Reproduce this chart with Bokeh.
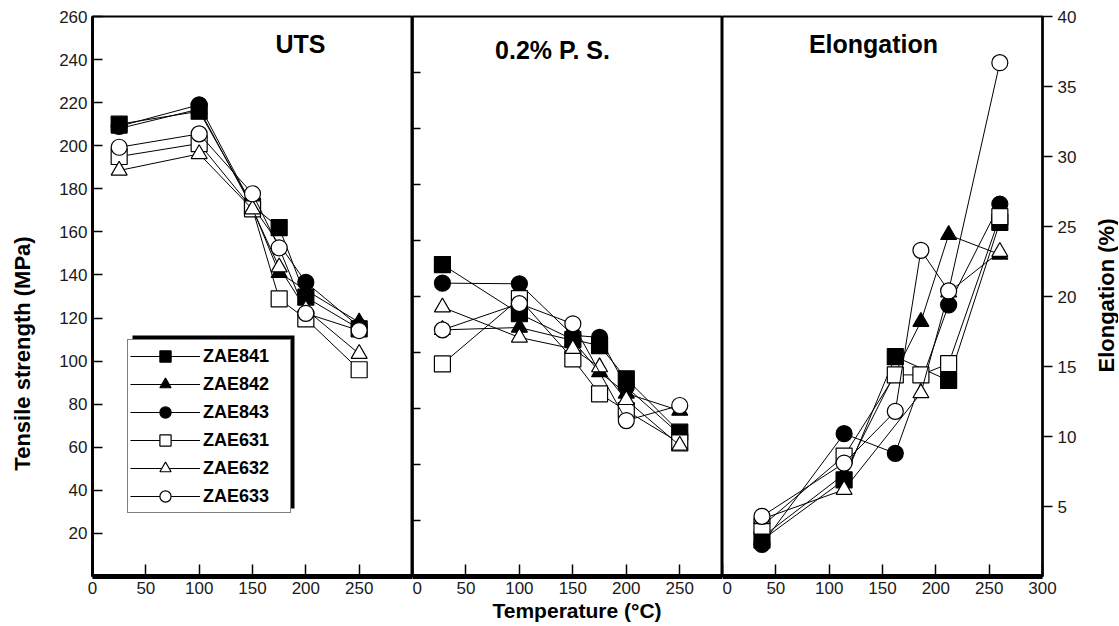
import math
from bokeh.plotting import figure
from bokeh.layouts import row
from bokeh.models import FixedTicker, Label, Legend, LegendItem, BoxAnnotation, Range1d, Title
from bokeh.embed import file_html
from bokeh.resources import INLINE

SERIES = ["ZAE841", "ZAE842", "ZAE843", "ZAE631", "ZAE632", "ZAE633"]
MARKERS = ["square", "triangle", "circle", "square", "triangle", "circle"]
FILLS = ["black", "black", "black", "white", "white", "white"]

# ---- UTS (MPa) ----
UTS_T_841 = [25, 100, 150, 175, 200, 250]
UTS_V_841 = [210, 216, 172, 162, 129.7, 115]
UTS_T_842 = [25, 100, 150, 175, 200, 250]
UTS_V_842 = [208, 217, 171, 141, 133, 118]
UTS_T_843 = [25, 100, 150, 200, 250]
UTS_V_843 = [209, 219, 172, 136.6, 116]
UTS_T_631 = [25, 100, 150, 175, 200, 250]
UTS_V_631 = [195, 201, 170.7, 128.9, 119.6, 96]
UTS_T_632 = [25, 100, 150, 175, 200, 250]
UTS_V_632 = [188.5, 196.2, 170.5, 143.6, 124, 103.4]
UTS_T_633 = [25, 100, 150, 175, 200, 250]
UTS_V_633 = [199.3, 205.5, 177.7, 152.6, 122.2, 114.2]

# ---- 0.2% proof stress (MPa) ----
PS_T_841 = [28, 100, 150, 175, 200, 250]
PS_V_841 = [144.8, 122, 110, 107.2, 91.8, 67]
PS_T_842 = [28, 100, 150, 175, 200, 250]
PS_V_842 = [114.5, 115.6, 109.6, 94.9, 85, 77]
PS_T_843 = [28, 100, 150, 175, 200, 250]
PS_V_843 = [136.2, 135.9, 112, 111, 88, 66]
PS_T_631 = [28, 100, 150, 175, 200, 250]
PS_V_631 = [98.7, 129, 101, 84.8, 77, 62]
PS_T_632 = [28, 100, 150, 175, 200, 250]
PS_V_632 = [125, 111, 105.7, 97.2, 82, 60.8]
PS_T_633 = [28, 100, 150, 200, 250]
PS_V_633 = [114.5, 126.7, 117.3, 72.4, 79.4]

# ---- Elongation (%) ----
EL_T_841 = [37, 114, 162, 212, 260]
EL_V_841 = [2.6, 6.9, 15.7, 14.0, 25.3]
EL_T_842 = [37, 114, 186, 212, 260]
EL_V_842 = [2.8, 7.3, 18.2, 24.4, 23.0]
EL_T_843 = [37, 114, 162, 212, 260]
EL_V_843 = [2.3, 10.2, 8.8, 19.4, 26.6]
EL_T_631 = [37, 114, 162, 186, 212, 260]
EL_V_631 = [3.6, 8.6, 14.4, 14.4, 15.2, 25.7]
EL_T_632 = [37, 114, 186, 212, 260]
EL_V_632 = [4.1, 6.2, 13.1, 20.3, 23.2]
EL_T_633 = [37, 114, 162, 186, 212, 260]
EL_V_633 = [4.3, 8.1, 11.8, 23.3, 20.4, 36.7]

UTS = [(UTS_T_841, UTS_V_841), (UTS_T_842, UTS_V_842), (UTS_T_843, UTS_V_843),
       (UTS_T_631, UTS_V_631), (UTS_T_632, UTS_V_632), (UTS_T_633, UTS_V_633)]
PS = [(PS_T_841, PS_V_841), (PS_T_842, PS_V_842), (PS_T_843, PS_V_843),
      (PS_T_631, PS_V_631), (PS_T_632, PS_V_632), (PS_T_633, PS_V_633)]
EL = [(EL_T_841, EL_V_841), (EL_T_842, EL_V_842), (EL_T_843, EL_V_843),
      (EL_T_631, EL_V_631), (EL_T_632, EL_V_632), (EL_T_633, EL_V_633)]

X_TICKS = [0, 50, 100, 150, 200, 250]
X_TICKS_EL = [0, 50, 100, 150, 200, 250, 300]
Y_TICKS_MPA = [20, 40, 60, 80, 100, 120, 140, 160, 180, 200, 220, 240, 260]
Y_TICKS_MID = [26, 52, 78, 104, 130, 156, 182, 208, 234]
Y_TICKS_EL = [5, 10, 15, 20, 25, 30, 35, 40]

FONT = "Liberation Sans"
FH = 560
TOP = 16
BOTTOM = 48
TOTAL_H = TOP + FH + BOTTOM


def make_fig(frame_w, x_end, y_end, mbl, mbr, yloc):
    p = figure(frame_width=frame_w, frame_height=FH,
               x_range=Range1d(0, x_end), y_range=Range1d(0, y_end),
               output_backend="svg", toolbar_location=None,
               min_border_left=mbl, min_border_right=mbr,
               min_border_top=TOP, min_border_bottom=BOTTOM,
               y_axis_location=yloc)
    p.xgrid.visible = False
    p.ygrid.visible = False
    p.outline_line_color = "black"
    p.outline_line_width = 2
    p.outline_line_alpha = 1
    p.background_fill_color = "white"
    p.border_fill_color = "white"
    ax = p.xaxis[0]
    ax.axis_line_width = 5
    ax.major_tick_in = 12
    ax.major_tick_out = 0
    ax.major_tick_line_width = 1.5
    ax.minor_tick_line_color = None
    ax.major_label_text_font = FONT
    ax.major_label_text_font_size = "17px"
    ax.major_label_text_color = "#1a1a1a"
    ax.major_label_standoff = 5
    return p


def label_fig(w):
    p = figure(frame_width=w, frame_height=TOTAL_H, x_axis_type=None, y_axis_type=None,
               output_backend="svg", toolbar_location=None,
               min_border_left=0, min_border_right=0, min_border_top=0, min_border_bottom=0)
    p.outline_line_color = None
    p.xgrid.visible = False
    p.ygrid.visible = False
    p.background_fill_color = "white"
    p.border_fill_color = "white"
    return p


def draw(p, data):
    rends = []
    for (t, v), m, f in zip(data, MARKERS, FILLS):
        lr = p.line(t, v, line_color="black", line_width=1)
        sr = p.scatter(t, v, marker=m, size=16, fill_color=f,
                       line_color="black", line_width=1.2)
        rends.append((lr, sr))
    return rends


def style_y(ax, tick_in=10, tick_out=0, lw=3):
    ax.axis_line_width = lw
    ax.major_tick_in = tick_in
    ax.major_tick_out = tick_out
    ax.major_tick_line_width = 1.5
    ax.minor_tick_line_color = None
    ax.major_label_text_font = FONT
    ax.major_label_text_color = "#1a1a1a"
    ax.major_label_text_font_size = "17px"
    ax.major_label_standoff = 5


def text_label(p, text, x, y, size, angle=0.0):
    p.add_layout(Label(x=x, y=y, x_units="screen", y_units="screen", text=text,
                       angle=angle, text_font=FONT, text_font_style="bold",
                       text_font_size=size, text_align="center",
                       text_baseline="middle", text_color="black"))


# ---------- outer label strips ----------
lab_left = label_fig(44)
text_label(lab_left, "Tensile strength (MPa)", 22, TOTAL_H - 337, "22px", math.pi / 2)

lab_right = label_fig(36)
text_label(lab_right, "Elongation (%)", 24, TOTAL_H - 279, "22px", math.pi / 2)

# ---------- left panel: UTS ----------
p1 = make_fig(320, 300, 260, 48, 0, "left")
p1.xaxis[0].ticker = FixedTicker(ticks=X_TICKS)
p1.yaxis[0].ticker = FixedTicker(ticks=Y_TICKS_MPA)
style_y(p1.yaxis[0], tick_in=10, tick_out=0, lw=3)
r1 = draw(p1, UTS)
text_label(p1, "UTS", 208, 533, "25px")

shadow = BoxAnnotation(left=40, right=202, top=241, bottom=68,
                       left_units="screen", right_units="screen",
                       top_units="screen", bottom_units="screen",
                       fill_color="black", fill_alpha=1, line_color=None)
p1.add_layout(shadow)
legend = Legend(items=[LegendItem(label=s, renderers=[lr, sr]) for s, (lr, sr) in zip(SERIES, r1)],
                location=(35, 63), margin=0, padding=2, spacing=0,
                glyph_width=70, glyph_height=28, label_height=20, label_width=85,
                label_standoff=3, label_text_font=FONT, label_text_font_style="bold",
                label_text_font_size="18px", label_text_color="black",
                border_line_color="black", border_line_width=1.2,
                background_fill_color="white", background_fill_alpha=1)
p1.add_layout(legend)

# ---------- middle panel: 0.2% P.S. ----------
p2 = make_fig(310, 290, 260, 0, 0, "left")
p2.xaxis[0].ticker = FixedTicker(ticks=X_TICKS)
p2.yaxis[0].ticker = FixedTicker(ticks=Y_TICKS_MID)
style_y(p2.yaxis[0], tick_in=8, tick_out=0, lw=2.5)
p2.yaxis[0].major_label_overrides = {t: "" for t in Y_TICKS_MID}
p2.yaxis[0].major_label_standoff = 0
draw(p2, PS)
text_label(p2, "0.2% P. S.", 140, 527, "25px")
p2.add_layout(Title(text="Temperature (\u00b0C)", align="left", offset=80, standoff=0,
                    text_font=FONT, text_font_style="bold", text_font_size="21px",
                    text_color="black"), "below")

# ---------- right panel: Elongation ----------
p3 = make_fig(320, 300, 40, 0, 40, "right")
p3.xaxis[0].ticker = FixedTicker(ticks=X_TICKS_EL)
p3.yaxis[0].ticker = FixedTicker(ticks=Y_TICKS_EL)
style_y(p3.yaxis[0], tick_in=0, tick_out=10, lw=2.5)
draw(p3, EL)
text_label(p3, "Elongation", 151, 533, "25px")

layout = row(lab_left, p1, p2, p3, lab_right, spacing=0)
open("out.html", "w").write(file_html(layout, INLINE))
